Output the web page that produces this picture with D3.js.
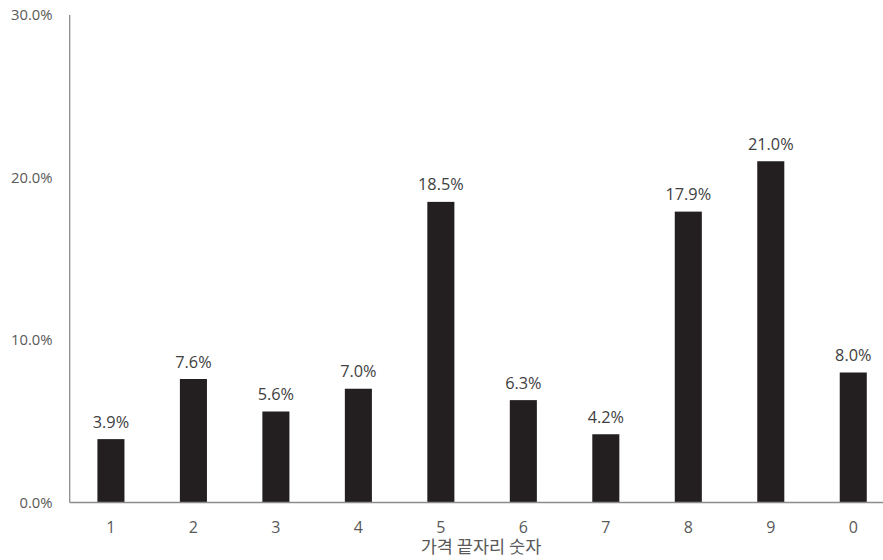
<!DOCTYPE html>
<html><head><meta charset="utf-8">
<script src="https://cdn.jsdelivr.net/npm/d3@7"></script>
<style>body{margin:0;background:#fff;} svg{display:block;}</style>
</head><body>
<svg id="c" width="883" height="560"></svg>
<script>
const categories = ["1","2","3","4","5","6","7","8","9","0"];
const values = [3.9, 7.6, 5.6, 7.0, 18.5, 6.3, 4.2, 17.9, 21.0, 8.0];
const yTicks = [0, 10, 20, 30];
const xTitle = "가격 끝자리 숫자";

const svg = d3.select("#c");
const font = "'Open Sans', 'Noto Sans', 'Noto Sans CJK KR', sans-serif";
const fontKR = "'Noto Sans CJK KR', 'Open Sans', sans-serif";
const x = d3.scaleBand().domain(categories).range([69.7, 894.5]).paddingInner(0.672).paddingOuter(0.336);
const y = d3.scaleLinear().domain([0, 30]).range([502.5, 15]);

// bars
svg.selectAll("rect.bar").data(values).join("rect")
  .attr("class","bar")
  .attr("x",(d,i)=>x(categories[i]))
  .attr("width",x.bandwidth())
  .attr("y",d=>y(d))
  .attr("height",d=>y(0)-y(d))
  .attr("fill","#231f20");

// axes lines
svg.append("line").attr("x1",69.7).attr("x2",69.7).attr("y1",y(30)).attr("y2",y(0))
  .attr("stroke","#8c8c8c").attr("stroke-width",1.3);
svg.append("line").attr("x1",69.7).attr("x2",883).attr("y1",y(0)).attr("y2",y(0))
  .attr("stroke","#8c8c8c").attr("stroke-width",1.3);

// y tick labels
svg.selectAll("text.yt").data(yTicks).join("text")
  .attr("class","yt")
  .attr("x",52.5).attr("y",d=>y(d)).attr("dy","0.35em")
  .attr("text-anchor","end")
  .attr("font-family",font).attr("font-size",14.8).attr("fill","#595959")
  .text(d=>d.toFixed(1)+"%");

// x tick labels
svg.selectAll("text.xt").data(categories).join("text")
  .attr("class","xt")
  .attr("x",d=>x(d)+x.bandwidth()/2).attr("y",533)
  .attr("text-anchor","middle")
  .attr("font-family",font).attr("font-size",16).attr("fill","#595959")
  .text(d=>d);

// data labels
svg.selectAll("text.dl").data(values).join("text")
  .attr("class","dl")
  .attr("x",(d,i)=>x(categories[i])+x.bandwidth()/2).attr("y",d=>y(d)-11.5)
  .attr("text-anchor","middle")
  .attr("font-family",font).attr("font-size",16.3).attr("fill","#404040")
  .text(d=>d.toFixed(1)+"%");

// x title
svg.append("text").attr("x",481).attr("y",553)
  .attr("text-anchor","middle")
  .attr("font-family",fontKR).attr("font-size",17.5).attr("fill","#595959")
  .text(xTitle);
</script>
</body></html>
